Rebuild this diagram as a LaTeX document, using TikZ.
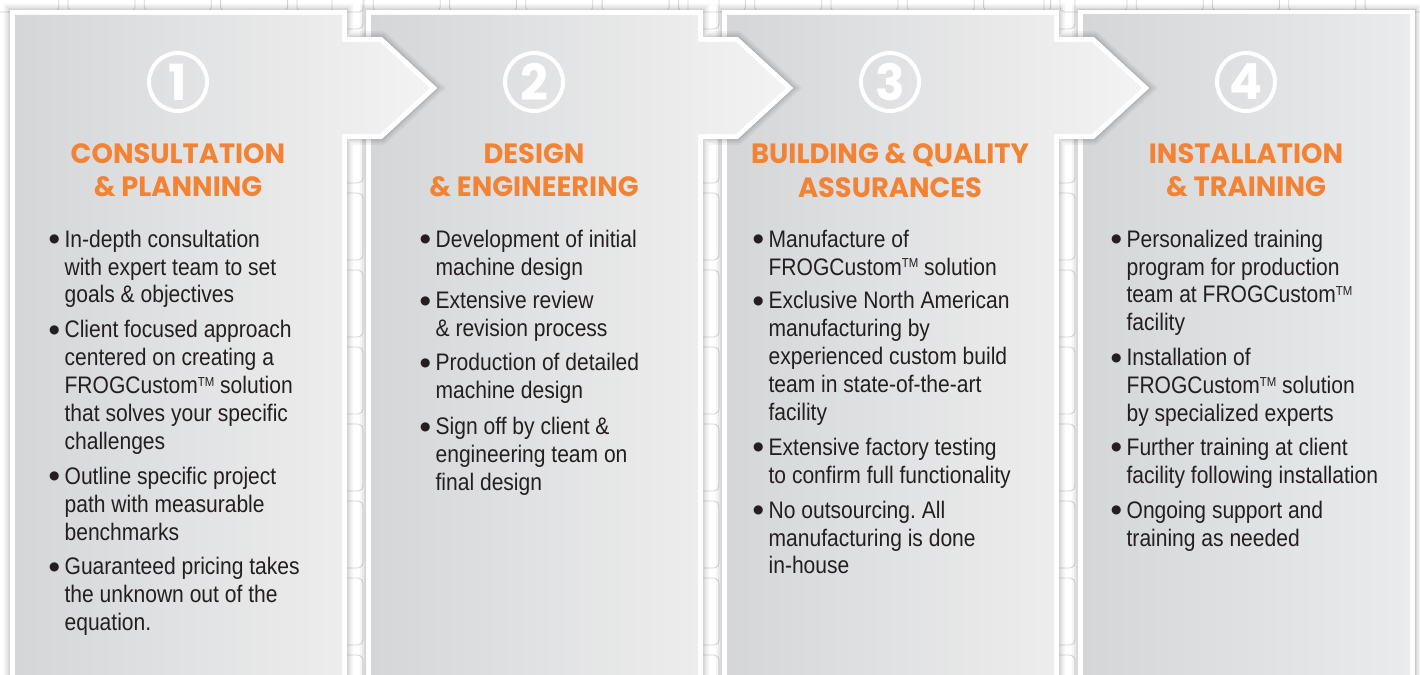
\documentclass[tikz,border=0pt]{standalone}
\usepackage{fontspec}
\setmainfont{Liberation Sans}[FakeStretch=0.88]
\newfontfamily\titlefont{Poppins}[FakeStretch=0.98]
\newfontfamily\dotfont{DejaVu Sans}

\definecolor{frogorange}{RGB}{243,131,52}
\definecolor{panelleft}{RGB}{213,214,216}
\definecolor{panelright}{RGB}{234,235,236}
\definecolor{arrowtip}{RGB}{243,243,243}
\definecolor{bodytext}{RGB}{35,31,32}

% bullet dot and trade mark sign of the lists
\newcommand{\blt}{\raisebox{4.5bp}{\dotfont\fontsize{12}{12}\selectfont ●}}
\newcommand{\tm}{\raisebox{7.5bp}{\fontsize{13}{13}\selectfont TM}}

\tikzset{
  gridcell/.style={draw=black!17, line width=0.8bp, rounded corners=5bp},
  stepnum/.style={circle, draw=white, line width=4bp, minimum size=58bp, inner sep=0pt,
    text=white, font=\titlefont\bfseries\fontsize{50}{50}\selectfont},
  steptitle/.style={anchor=north, align=center, inner sep=0pt, text=frogorange,
    font=\titlefont\bfseries\fontsize{28}{34}\selectfont},
  steplist/.style={anchor=north west, inner sep=0pt, text=bodytext,
    font=\fontsize{24}{28}\selectfont\frenchspacing},
}

\begin{document}
\begin{tikzpicture}[x=1bp, y=-1bp]
    \useasboundingbox[fill=white] (0,0) rectangle (1420,675);

    % faint cells behind the panels
    \foreach \k in {0,...,18}
        \draw[gridcell] (68+76.3*\k-76.3, -20) rectangle (135+76.3*\k-76.3, 12);
    \foreach \g in {0,1,2}
        \foreach \k in {0,...,9}
            \draw[gridcell] (332+356*\g, -38+77*\k) rectangle (363+356*\g, 29+77*\k);

    % panels, last one first so each arrow lies on the next panel
    \foreach \i in {3,2,1,0} {
        \pgfmathsetmacro{\L}{15+356*\i}
        \pgfmathsetmacro{\R}{\L+327}
        \ifnum\i=3
            \def\outline{(\L,15) -- (\R,15) -- (\R,690) -- (\L,690) -- cycle}
            \colorlet{panelend}{panelright}
        \else
            \def\outline{(\L,15) -- (\R,15) -- (\R,42) -- (\R+38,42) -- (\R+88,88) -- (\R+38,134) -- (\R,134) -- (\R,690) -- (\L,690) -- cycle}
            \colorlet{panelend}{arrowtip}
        \fi
        \foreach \w/\o in {22/0.04,18/0.05,14/0.06,11/0.08}
            \draw[black, opacity=\o, line width=\w bp] \outline;
        \draw[white, line width=10bp] \outline;
        \shade[left color=panelleft, right color=panelend] \outline;
    }

    \node[stepnum] (num1) at (178, 82) {1};
    \node[stepnum] (num2) at (534, 82) {2};
    \node[stepnum] (num3) at (890, 82) {3};
    \node[stepnum] (num4) at (1246, 82) {4};

    \node[steptitle] (title1) at (178, 143) {CONSULTATION\\\& PLANNING};
    \node[steptitle] (title2) at (534, 143) {DESIGN\\\& ENGINEERING};
    \node[steptitle] (title3) at (890, 143) {BUILDING \& QUALITY\\ASSURANCES};
    \node[steptitle] (title4) at (1246, 143) {INSTALLATION\\\& TRAINING};

    \node[steplist] (list1) at (49, 227.4) {\begin{tabular}{@{}c@{\hspace{5bp}}l@{}}
        \blt & In-depth consultation\\
        & with expert team to set\\
        & goals \& objectives\\[7bp]
        \blt & Client focused approach\\
        & centered on creating a\\
        & FROGCustom\tm{} solution\\
        & that solves your specific\\
        & challenges\\[7bp]
        \blt & Outline specific project\\
        & path with measurable\\
        & benchmarks\\[7bp]
        \blt & Guaranteed pricing takes\\
        & the unknown out of the\\
        & equation.
    \end{tabular}};
    \node[steplist] (list2) at (420, 227.4) {\begin{tabular}{@{}c@{\hspace{5bp}}l@{}}
        \blt & Development of initial\\
        & machine design\\[6bp]
        \blt & Extensive review\\
        & \& revision process\\[6bp]
        \blt & Production of detailed\\
        & machine design\\[8bp]
        \blt & Sign off by client \&\\
        & engineering team on\\
        & final design
    \end{tabular}};
    \node[steplist] (list3) at (753, 227.4) {\begin{tabular}{@{}c@{\hspace{5bp}}l@{}}
        \blt & Manufacture of\\
        & FROGCustom\tm{} solution\\[6bp]
        \blt & Exclusive North American\\
        & manufacturing by\\
        & experienced custom build\\
        & team in state-of-the-art\\
        & facility\\[7bp]
        \blt & Extensive factory testing\\
        & to confirm full functionality\\[7bp]
        \blt & No outsourcing. All\\
        & manufacturing is done\\
        & in-house
    \end{tabular}};
    \node[steplist] (list4) at (1111, 227.4) {\begin{tabular}{@{}c@{\hspace{5bp}}l@{}}
        \blt & Personalized training\\
        & program for production\\
        & team at FROGCustom\tm\\
        & facility\\[7bp]
        \blt & Installation of\\
        & FROGCustom\tm{} solution\\
        & by specialized experts\\[6bp]
        \blt & Further training at client\\
        & facility following installation\\[7bp]
        \blt & Ongoing support and\\
        & training as needed
    \end{tabular}};
\end{tikzpicture}
\end{document}
